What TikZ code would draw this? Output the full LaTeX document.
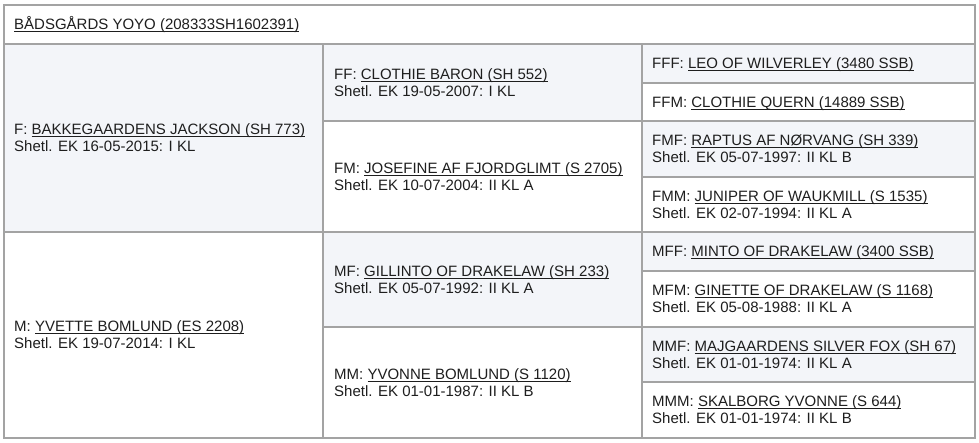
\documentclass[tikz,border=0pt]{standalone}
\usepackage{fontspec}
\setmainfont{Liberation Sans}
\definecolor{ink}{HTML}{1E1E1E}
\definecolor{gridc}{HTML}{A3A3A3}
\definecolor{shade}{HTML}{F3F5F9}
\newsavebox\ulbx
\newcommand\ulname[1]{\sbox\ulbx{#1}\rlap{\color{ink}\rule[-2.2pt]{\wd\ulbx}{0.9pt}}\usebox\ulbx}
\tikzset{
  txt/.style={inner sep=0pt, anchor=base west, font=\fontsize{15}{17}\selectfont, text=ink},
  gridline/.style={draw=gridc, line width=1.1pt},
  shaded/.style={fill=shade, draw=none}
}
\begin{document}
\begin{tikzpicture}[x=1pt,y=-1pt]
\useasboundingbox[fill=white] (0,0) rectangle (979,442);
% shaded cells
\fill[shaded] (4,44) rectangle (323,232);   % F
\fill[shaded] (323,44) rectangle (642,121); % FF
\fill[shaded] (323,232) rectangle (642,327);% MF
\fill[shaded] (642,44) rectangle (975,83);  % FFF
\fill[shaded] (642,121) rectangle (975,177);% FMF
\fill[shaded] (642,232) rectangle (975,271);% MFF
\fill[shaded] (642,327) rectangle (975,382);% MMF
% grid
\draw[gridline] (4,5) rectangle (975,438);
\draw[gridline] (4,44) -- (975,44);
\draw[gridline] (4,232) -- (975,232);
\draw[gridline] (323,44) -- (323,438);
\draw[gridline] (642,44) -- (642,438);
\draw[gridline] (323,121) -- (975,121);
\draw[gridline] (323,327) -- (975,327);
\draw[gridline] (642,83) -- (975,83);
\draw[gridline] (642,177) -- (975,177);
\draw[gridline] (642,271) -- (975,271);
\draw[gridline] (642,382) -- (975,382);
% header
\node[txt] (hdr) at (14,29.7) {\ulname{BÅDSGÅRDS YOYO (208333SH1602391)}};
% column 1
\node[txt] (f1) at (14,134.8) {F: \ulname{BAKKEGAARDENS JACKSON (SH 773)}};
\node[txt] (f2) at (14,151.8) {Shetl. EK 16-05-2015: I KL};
\node[txt] (m1) at (14,331.8) {M: \ulname{YVETTE BOMLUND (ES 2208)}};
\node[txt] (m2) at (14,348.8) {Shetl. EK 19-07-2014: I KL};
% column 2
\node[txt] (ff1) at (334,79.3) {FF: \ulname{CLOTHIE BARON (SH 552)}};
\node[txt] (ff2) at (334,96.3) {Shetl. EK 19-05-2007: I KL};
\node[txt] (fm1) at (334,173.3) {FM: \ulname{JOSEFINE AF FJORDGLIMT (S 2705)}};
\node[txt] (fm2) at (334,190.3) {Shetl. EK 10-07-2004: II KL A};
\node[txt] (mf1) at (334,276.3) {MF: \ulname{GILLINTO OF DRAKELAW (SH 233)}};
\node[txt] (mf2) at (334,293.3) {Shetl. EK 05-07-1992: II KL A};
\node[txt] (mm1) at (334,379.3) {MM: \ulname{YVONNE BOMLUND (S 1120)}};
\node[txt] (mm2) at (334,396.3) {Shetl. EK 01-01-1987: II KL B};
% column 3
\node[txt] (fff) at (652,68.7) {FFF: \ulname{LEO OF WILVERLEY (3480 SSB)}};
\node[txt] (ffm) at (652,107.2) {FFM: \ulname{CLOTHIE QUERN (14889 SSB)}};
\node[txt] (fmf1) at (652,145.8) {FMF: \ulname{RAPTUS AF NØRVANG (SH 339)}};
\node[txt] (fmf2) at (652,162.8) {Shetl. EK 05-07-1997: II KL B};
\node[txt] (fmm1) at (652,201.3) {FMM: \ulname{JUNIPER OF WAUKMILL (S 1535)}};
\node[txt] (fmm2) at (652,218.3) {Shetl. EK 02-07-1994: II KL A};
\node[txt] (mff) at (652,256.7) {MFF: \ulname{MINTO OF DRAKELAW (3400 SSB)}};
\node[txt] (mfm1) at (652,295.8) {MFM: \ulname{GINETTE OF DRAKELAW (S 1168)}};
\node[txt] (mfm2) at (652,312.8) {Shetl. EK 05-08-1988: II KL A};
\node[txt] (mmf1) at (652,351.3) {MMF: \ulname{MAJGAARDENS SILVER FOX (SH 67)}};
\node[txt] (mmf2) at (652,368.3) {Shetl. EK 01-01-1974: II KL A};
\node[txt] (mmm1) at (652,406.8) {MMM: \ulname{SKALBORG YVONNE (S 644)}};
\node[txt] (mmm2) at (652,423.8) {Shetl. EK 01-01-1974: II KL B};
\end{tikzpicture}
\end{document}
